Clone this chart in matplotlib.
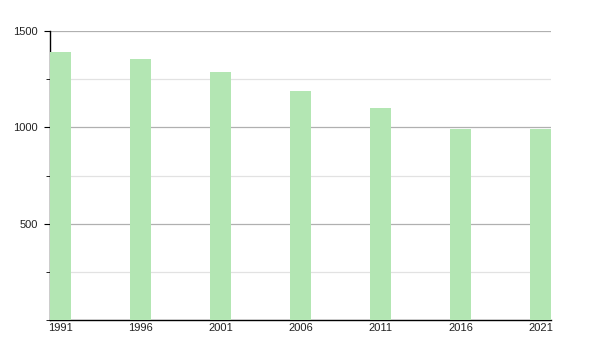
import matplotlib
matplotlib.use("Agg")
import matplotlib.pyplot as plt
from matplotlib.ticker import MultipleLocator

years = ["1991", "1996", "2001", "2006", "2011", "2016", "2021"]
population = [1391, 1355, 1287, 1189, 1100, 991, 989]

plt.rcParams['font.family'] = ['Liberation Sans', 'DejaVu Sans']

fig = plt.figure(figsize=(6, 3.5), dpi=100)
ax = fig.add_axes([50/600, 30/350, 501/600, 289/350])

x = list(range(len(years)))
ax.bar(x, population, width=0.26, color='#b3e6b3', zorder=3)

ax.set_xlim(-0.13, len(years) - 1 + 0.13)
ax.set_ylim(0, 1500)
ax.set_xticks(x)
ax.set_xticklabels(years)
ax.yaxis.set_major_locator(MultipleLocator(500))
ax.yaxis.set_minor_locator(MultipleLocator(250))
ax.set_yticks([500, 1000, 1500])
ax.grid(axis='y', which='major', color='#b0b0b0', linewidth=0.9, zorder=0)
ax.grid(axis='y', which='minor', color='#e2e2e2', linewidth=0.9, zorder=0)

for s in ['top', 'right']:
    ax.spines[s].set_visible(False)
ax.spines['left'].set_linewidth(1)
ax.spines['bottom'].set_linewidth(1)

ax.tick_params(axis='x', length=0, pad=2, labelsize=8, labelcolor='#222222')
ax.tick_params(axis='y', which='major', length=4, labelsize=8, pad=5, labelcolor='#222222')
ax.tick_params(axis='y', which='minor', length=3)

fig.savefig("out.png", dpi=100)
